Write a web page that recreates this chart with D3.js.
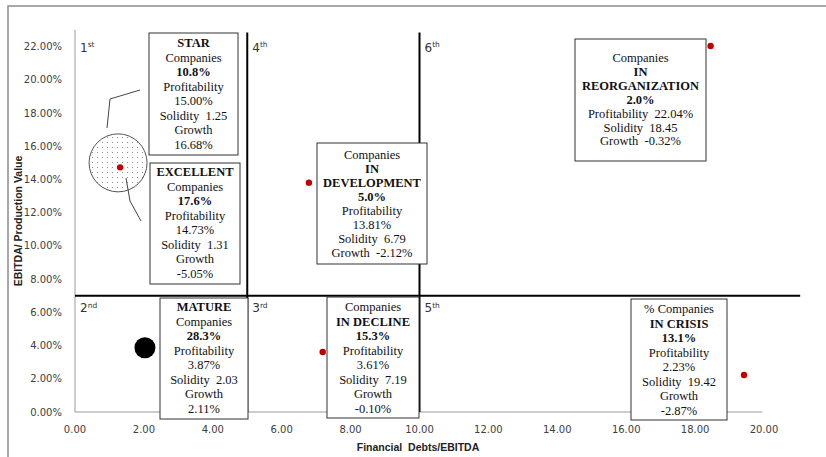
<!DOCTYPE html>
<html>
<head>
<meta charset="utf-8">
<script src="https://cdn.jsdelivr.net/npm/d3@7"></script>
<style>
  body { margin: 0; background: #fff; }
  .tick-lab { font-family: "DejaVu Sans", sans-serif; font-size: 10px; fill: #404040; }
  .box-text { font-family: "Liberation Serif", serif; font-size: 12.5px; fill: #111; }
  .quad { font-family: "DejaVu Sans", sans-serif; font-size: 12px; fill: #333; }
  .ax-title { font-family: "Liberation Sans", sans-serif; font-size: 10.5px; font-weight: bold; fill: #222; }
</style>
</head>
<body>
<script>
// data
const groups = ["STAR", "EXCELLENT", "MATURE", "IN DEVELOPMENT", "IN DECLINE", "IN CRISIS", "IN REORGANIZATION"];
const solidity = [1.25, 1.31, 2.03, 6.79, 7.19, 19.42, 18.45];        // Financial Debts/EBITDA
const profitability = [15.00, 14.73, 3.87, 13.81, 3.61, 2.23, 22.04];  // EBITDA/Production Value, %
const growth = [16.68, -5.05, 2.11, -2.12, -0.10, -2.87, -0.32];
const share = [10.8, 17.6, 28.3, 5.0, 15.3, 13.1, 2.0];
const xTicks = [0, 2, 4, 6, 8, 10, 12, 14, 16, 18, 20];
const yTicks = [0, 2, 4, 6, 8, 10, 12, 14, 16, 18, 20, 22];
const xSplits = [5, 10];
const ySplit = 7;
const quadrants = [
  { n: "1", s: "st", x: 0, y: 22 }, { n: "4", s: "th", x: 5, y: 22 }, { n: "6", s: "th", x: 10, y: 22 },
  { n: "2", s: "nd", x: 0, y: 6.3 }, { n: "3", s: "rd", x: 5, y: 6.3 }, { n: "5", s: "th", x: 10, y: 6.3 }
];

const fmt = v => v.toFixed(2);
// text lines of each box (same order as groups)
const boxLines = [
  [["STAR", 1], ["Companies"], [share[0].toFixed(1) + "%", 1], ["Profitability"], [fmt(profitability[0]) + "%"], ["Solidity  " + fmt(solidity[0])], ["Growth"], [fmt(growth[0]) + "%"]],
  [["EXCELLENT", 1], ["Companies"], [share[1].toFixed(1) + "%", 1], ["Profitability"], [fmt(profitability[1]) + "%"], ["Solidity  " + fmt(solidity[1])], ["Growth"], [fmt(growth[1]) + "%"]],
  [["MATURE", 1], ["Companies"], [share[2].toFixed(1) + "%", 1], ["Profitability"], [fmt(profitability[2]) + "%"], ["Solidity  " + fmt(solidity[2])], ["Growth"], [fmt(growth[2]) + "%"]],
  [["Companies"], ["IN", 1], ["DEVELOPMENT", 1], [share[3].toFixed(1) + "%", 1], ["Profitability"], [fmt(profitability[3]) + "%"], ["Solidity  " + fmt(solidity[3])], ["Growth  " + fmt(growth[3]) + "%"]],
  [["Companies"], ["IN DECLINE", 1], [share[4].toFixed(1) + "%", 1], ["Profitability"], [fmt(profitability[4]) + "%"], ["Solidity  " + fmt(solidity[4])], ["Growth"], [fmt(growth[4]) + "%"]],
  [["% Companies"], ["IN CRISIS", 1], [share[5].toFixed(1) + "%", 1], ["Profitability"], [fmt(profitability[5]) + "%"], ["Solidity  " + fmt(solidity[5])], ["Growth"], [fmt(growth[5]) + "%"]],
  [["Companies", 0, 11.5], ["IN", 1], ["REORGANIZATION", 1], [share[6].toFixed(1) + "%", 1], ["Profitability  " + fmt(profitability[6]) + "%"], ["Solidity  " + fmt(solidity[6])], ["Growth  " + fmt(growth[6]) + "%"]]
];
// box layout (pixels)
const boxPos = [
  { x: 149, y: 33, w: 89, h: 122, t: 43, dy: 14.5 },
  { x: 150, y: 163, w: 90, h: 121, t: 172, dy: 14.5 },
  { x: 160, y: 298, w: 88, h: 121, t: 307, dy: 14.5 },
  { x: 317, y: 143, w: 110, h: 121, t: 155, dy: 14 },
  { x: 327, y: 297, w: 92, h: 121, t: 307, dy: 14.5 },
  { x: 631, y: 299, w: 96, h: 121, t: 309, dy: 14.5 },
  { x: 575, y: 39, w: 131, h: 122, t: 58, dy: 13.9 }
];

const W = 826, H = 457;
const svg = d3.select("body").append("svg").attr("width", W).attr("height", H);

const x = d3.scaleLinear().domain([0, 20]).range([75, 764]);
const y = d3.scaleLinear().domain([0, 23]).range([412, 30]);

// outer frame (top and left only)
svg.append("path").attr("d", `M8,${H} L8,6 L${W},6`).attr("fill", "none").attr("stroke", "#8c8c8c").attr("stroke-width", 1.5);

// dotted pattern
const defs = svg.append("defs");
const pat = defs.append("pattern").attr("id", "dots").attr("patternUnits", "userSpaceOnUse")
  .attr("width", 5).attr("height", 5);
pat.append("rect").attr("width", 5).attr("height", 5).attr("fill", "#fff");
pat.append("circle").attr("cx", 2.5).attr("cy", 2.5).attr("r", 0.55).attr("fill", "#777");

// axes lines
svg.append("line").attr("x1", x(0)).attr("x2", x(0)).attr("y1", y(23)).attr("y2", y(0)).attr("stroke", "#9a9a9a");
svg.append("line").attr("x1", x(0)).attr("x2", x(19.95)).attr("y1", y(0)).attr("y2", y(0)).attr("stroke", "#9a9a9a");

svg.selectAll(".xl").data(xTicks).enter().append("text").attr("class", "tick-lab")
  .attr("x", d => x(d)).attr("y", 433).attr("text-anchor", "middle").text(d => fmt(d));
svg.selectAll(".yl").data(yTicks).enter().append("text").attr("class", "tick-lab")
  .attr("x", 62).attr("y", d => y(d) + 3.5).attr("text-anchor", "end").text(d => fmt(d) + "%");

// split lines
svg.selectAll(".vs").data(xSplits).enter().append("line")
  .attr("x1", d => x(d)).attr("x2", d => x(d)).attr("y1", y(22.85)).attr("y2", y(0))
  .attr("stroke", "#000").attr("stroke-width", 2);
svg.append("line").attr("x1", x(0)).attr("x2", x(21.05)).attr("y1", y(ySplit)).attr("y2", y(ySplit))
  .attr("stroke", "#000").attr("stroke-width", 2);

// quadrant labels
quadrants.forEach(q => {
  const t = svg.append("text").attr("class", "quad").attr("x", x(q.x) + 5).attr("y", y(q.y) + 5);
  t.append("tspan").text(q.n);
  t.append("tspan").attr("font-size", "7.5px").attr("dy", -4.5).text(q.s);
});

// callout circle around the STAR point
svg.append("circle").attr("cx", x(solidity[0])).attr("cy", y(profitability[0])).attr("r", 29)
  .attr("fill", "url(#dots)").attr("stroke", "#555").attr("stroke-width", 1);
svg.append("path").attr("d", "M107,128 L110,99 L140,90").attr("fill", "none").attr("stroke", "#444").attr("stroke-width", 1);
svg.append("path").attr("d", "M126,178 L130,201 L141,221").attr("fill", "none").attr("stroke", "#444").attr("stroke-width", 1);

// boxes
boxPos.forEach((b, i) => {
  svg.append("rect").attr("x", b.x).attr("y", b.y).attr("width", b.w).attr("height", b.h)
    .attr("fill", "#fff").attr("stroke", "#333").attr("stroke-width", 1);
  svg.append("g").selectAll("text").data(boxLines[i]).enter().append("text")
    .attr("class", "box-text").attr("text-anchor", "middle")
    .attr("x", b.x + b.w / 2).attr("y", (d, k) => b.t + 4 + k * b.dy)
    .attr("font-weight", d => d[1] ? "bold" : "normal")
    .attr("font-size", d => d[2] ? d[2] + "px" : (d[1] && d[0].endsWith("%") ? "13px" : null))
    .style("white-space", "pre")
    .text(d => d[0]);
});

// points
const pts = [1, 3, 4, 5, 6];
svg.selectAll(".pt").data(pts).enter().append("circle")
  .attr("cx", i => x(solidity[i])).attr("cy", i => y(profitability[i])).attr("r", 3.2).attr("fill", "#c00000");
svg.append("circle").attr("cx", x(solidity[2])).attr("cy", y(profitability[2])).attr("r", 10.5).attr("fill", "#000");

// axis titles
svg.append("text").attr("class", "ax-title").attr("x", 418).attr("y", 451).attr("text-anchor", "middle")
  .style("white-space", "pre").text("Financial  Debts/EBITDA");
svg.append("text").attr("class", "ax-title").attr("transform", "translate(22,221) rotate(-90)")
  .attr("text-anchor", "middle").text("EBITDA/ Production Value");
</script>
</body>
</html>
